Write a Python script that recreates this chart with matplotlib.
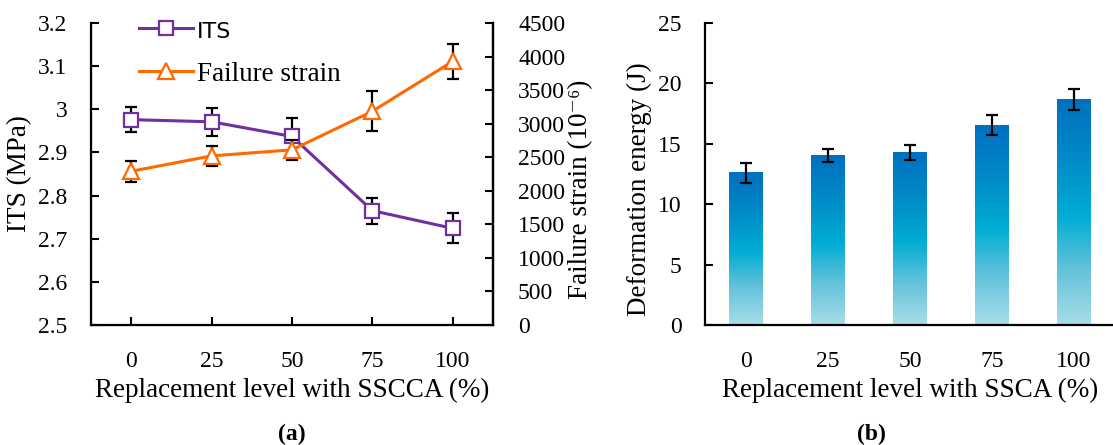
import numpy as np
import matplotlib
matplotlib.use("Agg")
import matplotlib.pyplot as plt
from matplotlib.colors import LinearSegmentedColormap

plt.rcParams['font.family'] = ['Liberation Serif', 'DejaVu Serif']

# data
levels = ["0", "25", "50", "75", "100"]
its = [2.976, 2.971, 2.937, 2.765, 2.724]
its_err = [0.029, 0.032, 0.042, 0.030, 0.035]
strain = [2290, 2520, 2610, 3185, 3930]
strain_err = [160, 150, 150, 295, 260]
energy = [12.6, 14.05, 14.3, 16.55, 18.65]
energy_err = [0.85, 0.55, 0.6, 0.8, 0.85]

W, H = 1113, 445
fig = plt.figure(figsize=(W / 100, H / 100), dpi=100)

purple = '#7030a0'
orange = '#ff6a00'
x = np.arange(len(levels))
TICK = 17
LAB = 19.5

# ---- (a) ITS + failure strain ----
ax = fig.add_axes([91 / W, 1 - 325 / H, 402 / W, 302 / H])
ax.errorbar(x, its, yerr=its_err, fmt='none', ecolor='black', elinewidth=1.6,
            capsize=4.5, capthick=1.6, zorder=2)
ax.plot(x, its, color=purple, lw=2.2, marker='s', ms=10, mfc='white',
        mec=purple, mew=1.6, zorder=3, label='ITS')
ax.set_xlim(-0.5, 4.5)
ax.set_ylim(2.5, 3.2)
ax.set_yticks(np.arange(2.5, 3.21, 0.1))
ax.set_yticklabels(['2.5', '2.6', '2.7', '2.8', '2.9', '3', '3.1', '3.2'])
ax.set_xticks(x)
ax.set_xticklabels(levels)
ax.tick_params(axis='y', direction='in', length=6, width=1.5, labelsize=TICK, pad=17)
ax.tick_params(axis='x', direction='in', length=6, width=1.5, labelsize=TICK, pad=19)
ax.spines['top'].set_visible(False)
for s in ['left', 'bottom', 'right']:
    ax.spines[s].set_linewidth(1.6)
ax.set_ylabel('ITS (MPa)', fontsize=LAB)
ax.yaxis.set_label_coords(-0.147, 0.5)
ax.set_xlabel('Replacement level with SSCCA (%)', fontsize=LAB)
ax.xaxis.set_label_coords(0.5, -0.175)

ax2 = ax.twinx()
ax2.errorbar(x, strain, yerr=strain_err, fmt='none', ecolor='black', elinewidth=1.6,
             capsize=4.5, capthick=1.6, zorder=2)
ax2.plot(x, strain, color=orange, lw=2.2, marker='^', ms=11, mfc='white',
         mec=orange, mew=1.6, zorder=3, label='Failure strain')
ax2.set_ylim(0, 4500)
ax2.set_yticks(np.arange(0, 4501, 500))
ax2.tick_params(axis='y', direction='in', length=6, width=1.5, labelsize=TICK, pad=18)
ax2.spines['top'].set_visible(False)
ax2.spines['right'].set_linewidth(1.6)
ax2.set_ylabel('Failure strain (10\u207b\u2076)', fontsize=LAB)
ax2.yaxis.set_label_coords(1.187, 0.45)

h1, l1 = ax.get_legend_handles_labels()
h2, l2 = ax2.get_legend_handles_labels()
leg = ax2.legend(h1 + h2, l1 + l2, loc='upper left', bbox_to_anchor=(0.058, 1.095),
                 frameon=False, fontsize=LAB, handlelength=2.0, labelspacing=0.75,
                 handletextpad=0.15)
leg.get_texts()[0].set_family('DejaVu Sans')
leg.get_texts()[0].set_fontsize(16)

fig.text(292 / W, 1 - 434 / H, '(a)', ha='center', va='center', fontsize=17,
         fontweight='bold')

# ---- (b) deformation energy ----
bx = fig.add_axes([705 / W, 1 - 325 / H, 410 / W, 302 / H])
cmap = LinearSegmentedColormap.from_list('bar', [
    (0.0, '#a8dde9'), (0.25, '#62c2da'), (0.48, '#00add3'),
    (0.75, '#0089c8'), (1.0, '#0070c0')])
grad = np.linspace(0, 1, 256).reshape(-1, 1)
bw = 0.41
bars = bx.bar(x, energy, width=bw, color='none', edgecolor='none')
for b in bars:
    x0, h = b.get_x(), b.get_height()
    bx.imshow(grad, cmap=cmap, origin='lower', aspect='auto',
              extent=[x0, x0 + bw, 0, h], zorder=1)
bx.errorbar(x, energy, yerr=energy_err, fmt='none', ecolor='black', elinewidth=1.6,
            capsize=4.5, capthick=1.6, zorder=3)
bx.set_xlim(-0.5, 4.5)
bx.set_ylim(0, 25)
bx.set_yticks(np.arange(0, 26, 5))
bx.set_xticks(x)
bx.set_xticklabels(levels)
bx.tick_params(axis='y', direction='in', length=6, width=1.5, labelsize=TICK, pad=17)
bx.tick_params(axis='x', length=0, labelsize=TICK, pad=19)
bx.spines['top'].set_visible(False)
bx.spines['right'].set_visible(False)
for s in ['left', 'bottom']:
    bx.spines[s].set_linewidth(1.6)
bx.set_ylabel('Deformation energy (J)', fontsize=LAB)
bx.yaxis.set_label_coords(-0.129, 0.45)
bx.set_xlabel('Replacement level with SSCA (%)', fontsize=LAB)
bx.xaxis.set_label_coords(0.5, -0.175)

fig.text(871 / W, 1 - 434 / H, '(b)', ha='center', va='center', fontsize=17,
         fontweight='bold')

fig.savefig('out.png', dpi=100)
